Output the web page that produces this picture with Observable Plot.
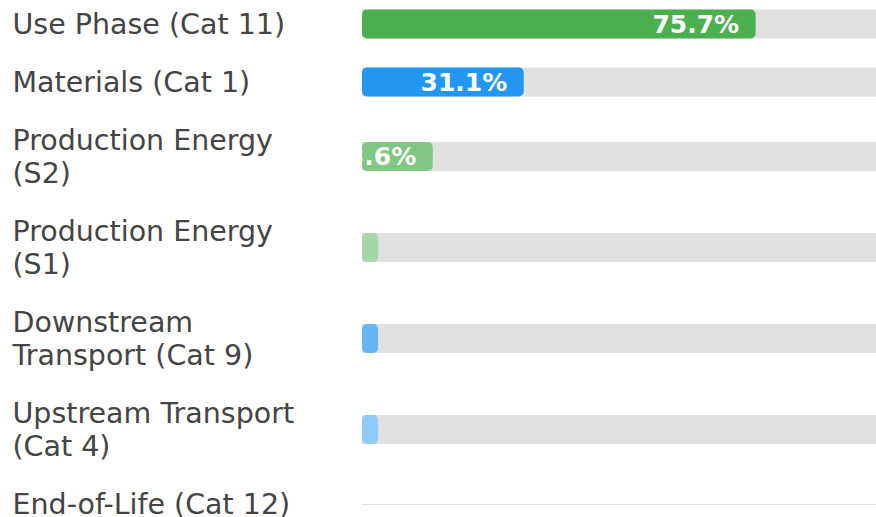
<!DOCTYPE html>
<html>
<head>
<meta charset="utf-8">
<script src="https://cdn.jsdelivr.net/npm/d3@7"></script>
<script src="https://cdn.jsdelivr.net/npm/@observablehq/plot@0.6"></script>
<style>
  html, body { margin: 0; padding: 0; background: #fff; overflow: hidden; }
  #chart svg { display: block; font-family: "DejaVu Sans", sans-serif; }
</style>
</head>
<body>
<div id="chart"></div>
<script>
// ---- data ----
const categories = [
  "Use Phase (Cat 11)",
  "Materials (Cat 1)",
  "Production Energy\n(S2)",
  "Production Energy\n(S1)",
  "Downstream\nTransport (Cat 9)",
  "Upstream Transport\n(Cat 4)",
  "End-of-Life (Cat 12)"
];
const values = [75.7, 31.1, 13.6, 3.1, 3.1, 3.1, 0];
const valueLabels = ["75.7%", "31.1%", "13.6%", "3.1%", "3.1%", "3.1%", "0%"];
const colors = ["#4caf50", "#2196f3", "#81c784", "#a5d6a7", "#64b5f6", "#90caf9", "#bbdefb"];

// ---- layout (row height depends on number of label lines) ----
const lineH = 33, gap = 25;
let acc = 0;
const rows = categories.map((c, i) => {
  const lines = c.split("\n").length;
  const h = gap + lineH * lines;
  const center = acc + h / 2;
  acc += h;
  return {label: c, value: values[i], text: valueLabels[i], color: colors[i], center, last: i === categories.length - 1};
});
const totalH = acc;
const offsetTop = -5;
const half = 14.5;
const labelSize = 28.5;

const chart = Plot.plot({
  width: 876,
  height: 517,
  marginLeft: 362,
  marginRight: -6,
  marginTop: 0,
  marginBottom: 0,
  x: {domain: [0, 100], axis: null},
  y: {type: "linear", domain: [0, totalH], range: [offsetTop, offsetTop + totalH], axis: null},
  marks: [
    // tracks
    Plot.rect(rows.filter(d => !d.last), {x1: 0, x2: 100, y1: d => d.center - half, y2: d => d.center + half, fill: "#e0e0e0"}),
    Plot.ruleY(rows.filter(d => d.last), {y: d => d.center, x1: 0, x2: 100, stroke: "#e0e0e0", strokeWidth: 1}),
    // bars
    Plot.rect(rows.filter(d => d.value > 0), {x1: 0, x2: d => d.value, y1: d => d.center - half, y2: d => d.center + half, fill: d => d.color, rx: 5}),
    // value labels inside bars (clipped to the track start)
    Plot.text(rows.filter(d => d.value > 0), {
      x: d => d.value, y: d => d.center, text: d => d.text,
      textAnchor: "end", dx: -17, fill: "#fff", fontWeight: "bold", fontSize: 25,
      clip: "frame"
    }),
    // category labels
    Plot.text(rows, {
      y: d => d.center, text: d => d.label, frameAnchor: "left", dx: -350, dy: -1.5,
      textAnchor: "start", lineAnchor: "middle", lineHeight: lineH / labelSize,
      fontSize: labelSize, fill: "#444"
    })
  ]
});
document.getElementById("chart").appendChild(chart);
</script>
</body>
</html>
